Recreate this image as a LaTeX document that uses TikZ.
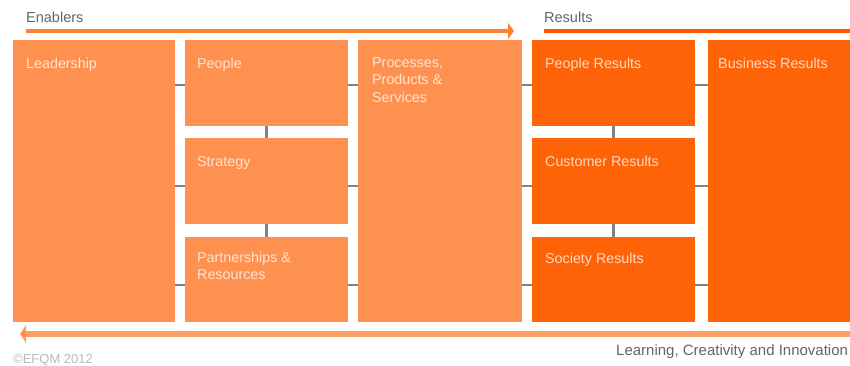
\documentclass[tikz,border=0pt]{standalone}
\usepackage{fontspec}
\setmainfont{Liberation Sans}
\usetikzlibrary{arrows.meta}
\definecolor{lightor}{RGB}{255,145,80}
\definecolor{darkor}{RGB}{255,99,8}
\definecolor{enabline}{RGB}{255,130,50}
\definecolor{resline}{RGB}{255,88,0}
\definecolor{loopline}{RGB}{255,158,100}
\definecolor{conngray}{RGB}{130,130,130}
\definecolor{labgray}{RGB}{100,100,100}
\definecolor{copygray}{RGB}{185,185,185}
\tikzset{
  enabox/.style={draw=none, fill=lightor, anchor=north west, inner sep=0pt, outer sep=0pt},
  resbox/.style={draw=none, fill=darkor, anchor=north west, inner sep=0pt, outer sep=0pt},
  boxtext/.style={anchor=base west, inner sep=0pt, text=white, text opacity=0.75, font=\fontsize{14.3}{17.5}\selectfont, align=left},
  headtext/.style={anchor=base west, inner sep=0pt, text=labgray, font=\fontsize{14.5}{16}\selectfont},
  conn/.style={draw=conngray, line width=2.2pt},
}
\begin{document}
\begin{tikzpicture}[x=1pt,y=-1pt]
\useasboundingbox (0,0) rectangle (850,365);
% boxes
\node[enabox, minimum width=162pt, minimum height=282pt] (lead) at (13,40) {};
\node[enabox, minimum width=163pt, minimum height=86pt] (peop) at (185,40) {};
\node[enabox, minimum width=163pt, minimum height=86pt] (strat) at (185,138) {};
\node[enabox, minimum width=163pt, minimum height=85pt] (part) at (185,237) {};
\node[enabox, minimum width=164pt, minimum height=282pt] (proc) at (358,40) {};
\node[resbox, minimum width=163pt, minimum height=86pt] (pres) at (532,40) {};
\node[resbox, minimum width=163pt, minimum height=86pt] (cres) at (532,138) {};
\node[resbox, minimum width=163pt, minimum height=85pt] (sres) at (532,237) {};
\node[resbox, minimum width=142pt, minimum height=282pt] (bres) at (708,40) {};
% box texts (multi-line nodes are placed by their last baseline)
\node[boxtext] (tlead) at (26,68) {Leadership};
\node[boxtext] (tpeop) at (197,68) {People};
\node[boxtext] (tstrat) at (197,166) {Strategy};
\node[boxtext] (tpart) at (197,279.5) {Partnerships \&\\Resources};
\node[boxtext] (tproc) at (372,102) {Processes,\\Products \&\\Services};
\node[boxtext] (tpres) at (545,68) {People Results};
\node[boxtext] (tcres) at (545,166) {Customer Results};
\node[boxtext] (tsres) at (545,263) {Society Results};
\node[boxtext] (tbres) at (718,68) {Business Results};
% horizontal connectors
\foreach \yy in {85,186,285}{
  \draw[conn] (lead.east |- 0,\yy) -- (peop.west |- 0,\yy);
  \draw[conn] (peop.east |- 0,\yy) -- (proc.west |- 0,\yy);
  \draw[conn] (proc.east |- 0,\yy) -- (pres.west |- 0,\yy);
  \draw[conn] (pres.east |- 0,\yy) -- (bres.west |- 0,\yy);
}
% vertical connectors
\draw[conn] (peop.south) -- (strat.north);
\draw[conn] (strat.south) -- (part.north);
\draw[conn] (pres.south) -- (cres.north);
\draw[conn] (cres.south) -- (sres.north);
% headers
\node[headtext] (enab) at (26,22) {Enablers};
\node[headtext] (resu) at (544,22) {Results};
\coordinate (enabs) at (26,31);
\coordinate (enabe) at (514,31);
\draw[draw=enabline, line width=4pt, -{Triangle[width=16pt,length=6pt]}] (enabs) -- (enabe);
\coordinate (ress) at (544,31);
\coordinate (rese) at (850,31);
\draw[draw=resline, line width=4pt] (ress) -- (rese);
% learning loop
\coordinate (loops) at (850,334);
\coordinate (loope) at (20,334);
\draw[draw=loopline, line width=6pt, -{Triangle[width=18pt,length=6pt,fill=enabline]}] (loops) -- (loope);
\node[headtext, font=\fontsize{15}{17}\selectfont] (learn) at (616,355) {Learning, Creativity and Innovation};
\node[anchor=base west, inner sep=0pt, text=copygray, font=\fontsize{13}{15}\selectfont] (copy) at (13,363) {©EFQM 2012};
\end{tikzpicture}
\end{document}
